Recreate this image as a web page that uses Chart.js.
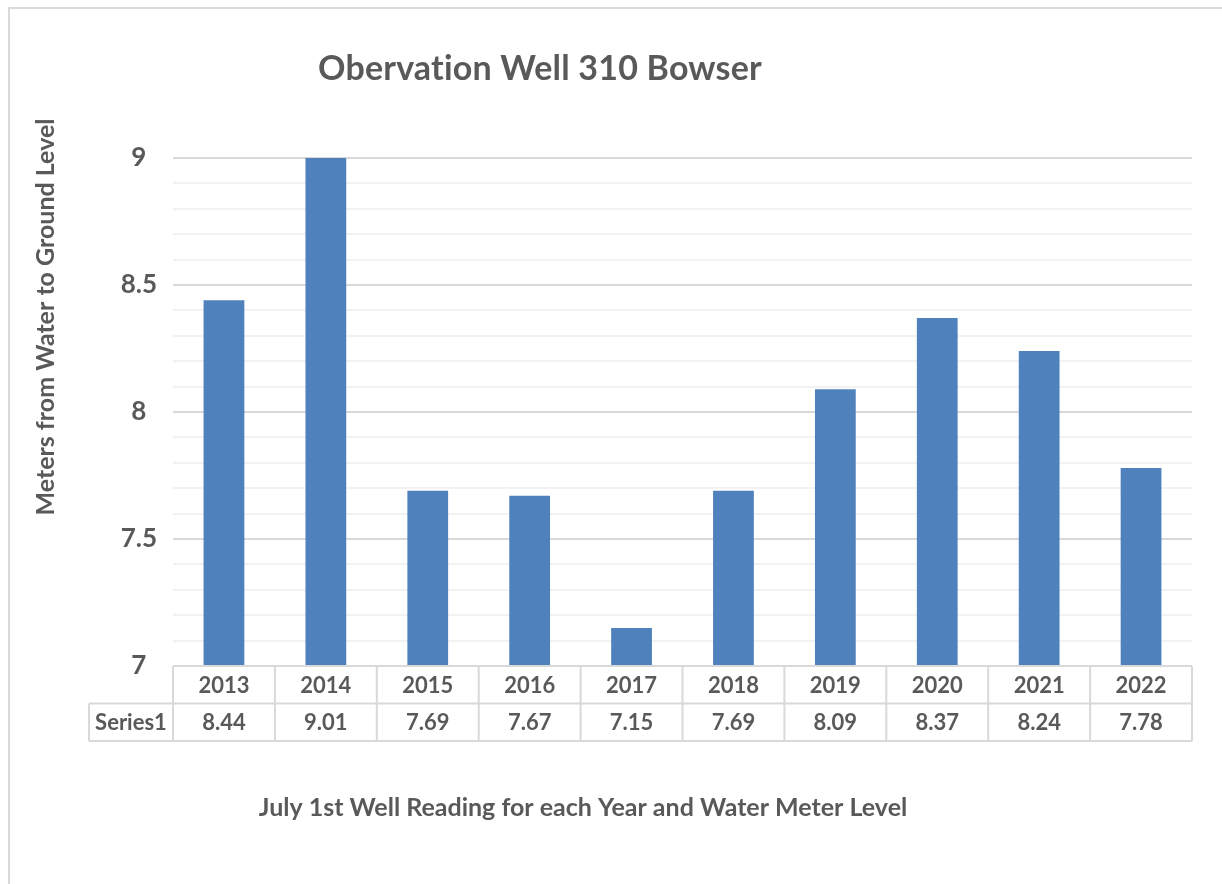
<!DOCTYPE html>
<html>
<head>
<meta charset="utf-8">
<script src="https://cdn.jsdelivr.net/npm/chart.js@4/dist/chart.umd.min.js"></script>
<style>
    body { margin: 0; background: #ffffff; }
    #wrap { width: 1222px; height: 884px; position: relative; }
</style>
</head>
<body>
<div id="wrap"><canvas id="wellChart" width="1222" height="884"></canvas></div>
<script>
// Data
const years = ['2013', '2014', '2015', '2016', '2017', '2018', '2019', '2020', '2021', '2022'];
const levels = [8.44, 9.01, 7.69, 7.67, 7.15, 7.69, 8.09, 8.37, 8.24, 7.78];
const seriesName = 'Series1';
const chartTitle = 'Obervation Well 310 Bowser';
const yTitle = 'Meters from Water to Ground Level';
const xTitle = 'July 1st Well Reading for each Year and Water Meter Level';

const textColor = '#595959';
const fontFamily = 'Lato, "Open Sans", sans-serif';

// Draws border, titles, and the data table under the axis
const tablePlugin = {
    id: 'tablePlugin',
    afterDraw(chart) {
        const ctx = chart.ctx;
        const xs = chart.scales.x;
        const area = chart.chartArea;
        const rowH = 37.5;
        const top = area.bottom;
        const mid = top + rowH;
        const bottom = top + rowH * 2;
        const half = (xs.getPixelForValue(1) - xs.getPixelForValue(0)) / 2;

        ctx.save();

        // outer chart border
        ctx.strokeStyle = '#d9d9d9';
        ctx.lineWidth = 2;
        ctx.strokeRect(9, 8, 1400, 1000);

        // table lines
        ctx.beginPath();
        ctx.moveTo(area.left, top);
        ctx.lineTo(area.right, top);
        ctx.moveTo(89, mid);
        ctx.lineTo(area.right, mid);
        ctx.moveTo(89, bottom);
        ctx.lineTo(area.right, bottom);
        ctx.moveTo(89, mid);
        ctx.lineTo(89, bottom);
        ctx.moveTo(area.left, top);
        ctx.lineTo(area.left, bottom);
        years.forEach((y, i) => {
            const xr = xs.getPixelForValue(i) + half;
            ctx.moveTo(xr, top);
            ctx.lineTo(xr, bottom);
        });
        ctx.stroke();

        // table text
        ctx.fillStyle = textColor;
        ctx.textAlign = 'center';
        ctx.textBaseline = 'middle';
        ctx.font = 'bold 22px ' + fontFamily;
        years.forEach((y, i) => {
            const xc = xs.getPixelForValue(i);
            ctx.fillText(y, xc, top + rowH / 2 + 1);
            ctx.fillText(levels[i].toFixed(2), xc, mid + rowH / 2 + 1);
        });
        ctx.fillText(seriesName, (89 + area.left) / 2, mid + rowH / 2 + 1);

        // chart title (small letter spacing keeps "ti" from joining)
        ctx.letterSpacing = '0.2px';
        ctx.font = 'bold 34px ' + fontFamily;
        ctx.fillText(chartTitle, 540, 69);
        ctx.letterSpacing = '0px';

        // x axis title
        ctx.font = 'bold 25px ' + fontFamily;
        ctx.fillText(xTitle, 583, 808);

        // y axis title
        ctx.translate(46, 317);
        ctx.rotate(-Math.PI / 2);
        ctx.font = 'bold 25px ' + fontFamily;
        ctx.fillText(yTitle, 0, 0);

        ctx.restore();
    }
};

const ctx = document.getElementById('wellChart').getContext('2d');
const wellChart = new Chart(ctx, {
    type: 'bar',
    data: {
        labels: years,
        datasets: [{
            label: seriesName,
            data: levels,
            backgroundColor: '#4f81bd',
            borderWidth: 0,
            barPercentage: 0.4,
            categoryPercentage: 1.0,
            clip: 0
        }]
    },
    options: {
        responsive: false,
        animation: false,
        layout: {
            padding: { left: 28, right: 30, top: 158, bottom: 218 }
        },
        plugins: {
            legend: { display: false },
            tooltip: { enabled: false },
            title: { display: false }
        },
        scales: {
            x: {
                ticks: { display: false },
                grid: { display: false, drawTicks: false },
                border: { display: false }
            },
            y: {
                min: 7,
                max: 9,
                afterFit(scale) {
                    scale.width = 145;
                },
                ticks: {
                    stepSize: 0.1,
                    autoSkip: false,
                    crossAlign: 'center',
                    padding: 16,
                    color: textColor,
                    font: { family: fontFamily, size: 26, weight: 'bold' },
                    callback: function (value) {
                        const v = Math.round(value * 10) / 10;
                        if (Math.abs(v * 2 - Math.round(v * 2)) < 1e-6) {
                            return String(v);
                        }
                        return '';
                    }
                },
                grid: {
                    drawTicks: false,
                    lineWidth: 2,
                    color: function (c) {
                        const v = Math.round(c.tick.value * 10) / 10;
                        if (Math.abs(v * 2 - Math.round(v * 2)) < 1e-6) {
                            return '#d9d9d9';
                        }
                        return '#f2f2f2';
                    }
                },
                border: { display: false }
            }
        }
    },
    plugins: [tablePlugin]
});
</script>
</body>
</html>
